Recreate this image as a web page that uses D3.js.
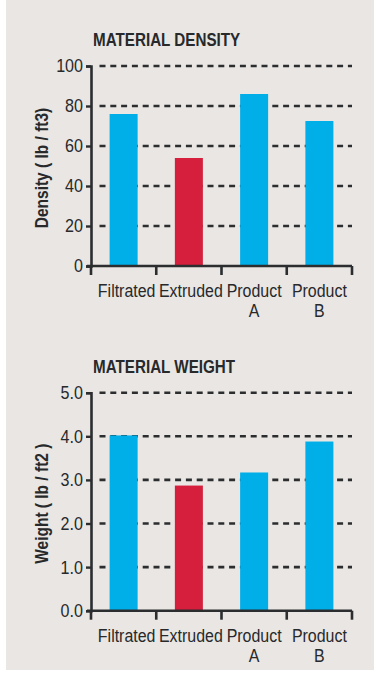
<!DOCTYPE html>
<html>
<head>
<meta charset="utf-8">
<script src="https://cdn.jsdelivr.net/npm/d3@7"></script>
<style>
	body { margin: 0; background: #fff; }
	svg { display: block; }
	text { font-family: "Liberation Sans", Arial, sans-serif; fill: #27292b; }
</style>
</head>
<body>
<div id="chart"></div>
<script>
const categories = ['Filtrated', 'Extruded', 'Product A', 'Product B'];
const highlight = 'Extruded';

const densityValues = [76, 54, 86, 72.5];
const densityTicks = [0, 20, 40, 60, 80, 100];

const weightValues = [4.02, 2.87, 3.17, 3.88];
const weightTicks = [0, 1, 2, 3, 4, 5];

const svg = d3.select('#chart')
	.append('svg')
	.attr('width', 379)
	.attr('height', 674);

svg.append('rect')
	.attr('x', 6)
	.attr('y', 0)
	.attr('width', 368)
	.attr('height', 670)
	.attr('fill', '#e9e6e3');

// squeeze Liberation Sans so it reads like a condensed Helvetica
const _condense = (selection, factor) =>{
	selection.each(function (){
		const len = this.getComputedTextLength();
		d3.select(this)
			.attr('textLength', len * factor)
			.attr('lengthAdjust', 'spacingAndGlyphs');
	});
};

const _drawChart = (options) =>{
	const {top, height, title, label, values, ticks, format} = options;
	const left = 91, width = 261;

	const xScale = d3.scaleBand()
		.domain(categories)
		.range([left, left + width]);

	const yScale = d3.scaleLinear()
		.domain([ticks[0], ticks[ticks.length - 1]])
		.range([top + height, top]);

	const g = svg.append('g');

	g.append('text')
		.attr('x', 93)
		.attr('y', top - 20)
		.attr('font-size', 19)
		.attr('font-weight', 'bold')
		.text(title)
		.call(_condense, 0.8);

	// dashed grid
	g.append('g')
		.selectAll('line')
		.data(ticks.slice(1))
		.enter()
		.append('line')
		.attr('x1', left + 8.5)
		.attr('x2', left + width)
		.attr('y1', d => yScale(d))
		.attr('y2', d => yScale(d))
		.attr('stroke', '#2b2d2f')
		.attr('stroke-width', 2.6)
		.attr('stroke-dasharray', '6,4.8');

	// bars
	const barWidth = 28;
	g.append('g')
		.selectAll('rect')
		.data(values)
		.enter()
		.append('rect')
		.attr('x', (d, i) => xScale(categories[i]) + (xScale.bandwidth() - barWidth) / 2)
		.attr('y', d => yScale(d))
		.attr('width', barWidth)
		.attr('height', d => yScale(ticks[0]) - yScale(d))
		.attr('fill', (d, i) => categories[i] === highlight ? '#d51f3c' : '#00aee8');

	// y axis
	const yAxis = g.append('g')
		.attr('transform', `translate(${left}, 0)`)
		.call(d3.axisLeft(yScale).tickValues(ticks).tickFormat(format).tickSize(5).tickPadding(3));
	yAxis.select('.domain').attr('stroke', '#2b2d2f').attr('stroke-width', 2.6);
	yAxis.selectAll('.tick line').attr('stroke', '#2b2d2f').attr('stroke-width', 2.4);
	yAxis.selectAll('.tick text')
		.attr('font-size', 18.5)
		.attr('font-family', '"Liberation Sans", Arial, sans-serif')
		.attr('fill', '#27292b')
		.call(_condense, 0.87);

	// x axis line with category boundary ticks
	const bounds = categories.map(c => xScale(c)).concat([left + width]);
	g.append('line')
		.attr('x1', left - 4)
		.attr('x2', left + width)
		.attr('y1', yScale(ticks[0]))
		.attr('y2', yScale(ticks[0]))
		.attr('stroke', '#2b2d2f')
		.attr('stroke-width', 2.6);
	g.append('g')
		.selectAll('line')
		.data(bounds)
		.enter()
		.append('line')
		.attr('x1', d => d)
		.attr('x2', d => d)
		.attr('y1', yScale(ticks[0]))
		.attr('y2', yScale(ticks[0]) + 9)
		.attr('stroke', '#2b2d2f')
		.attr('stroke-width', 2.6);

	// category labels, one text per line
	const lines = [];
	categories.forEach(c =>{
		const cx = xScale(c) + xScale.bandwidth() / 2 + (c === 'Filtrated' ? 3 : c === 'Extruded' ? 2 : 0);
		c.split(' ').forEach((w, i) => lines.push({w, cx, i}));
	});
	g.append('g')
		.selectAll('text')
		.data(lines)
		.enter()
		.append('text')
		.attr('text-anchor', 'middle')
		.attr('font-size', 17.5)
		.attr('x', d => d.cx)
		.attr('y', d => yScale(ticks[0]) + 31 + d.i * 20)
		.text(d => d.w)
		.call(_condense, 0.91);

	// y label
	g.append('text')
		.attr('transform', `translate(48, ${top + height / 2 + 2}) rotate(-90)`)
		.attr('text-anchor', 'middle')
		.attr('font-size', 18)
		.attr('font-weight', 'bold')
		.text(label)
		.call(_condense, 0.86);
};

_drawChart({
	top: 66,
	height: 200,
	title: 'MATERIAL DENSITY',
	label: 'Density ( lb / ft3)',
	values: densityValues,
	ticks: densityTicks,
	format: d3.format('d')
});

_drawChart({
	top: 392.7,
	height: 218,
	title: 'MATERIAL WEIGHT',
	label: 'Weight ( lb / ft2 )',
	values: weightValues,
	ticks: weightTicks,
	format: d3.format('.1f')
});
</script>
</body>
</html>
